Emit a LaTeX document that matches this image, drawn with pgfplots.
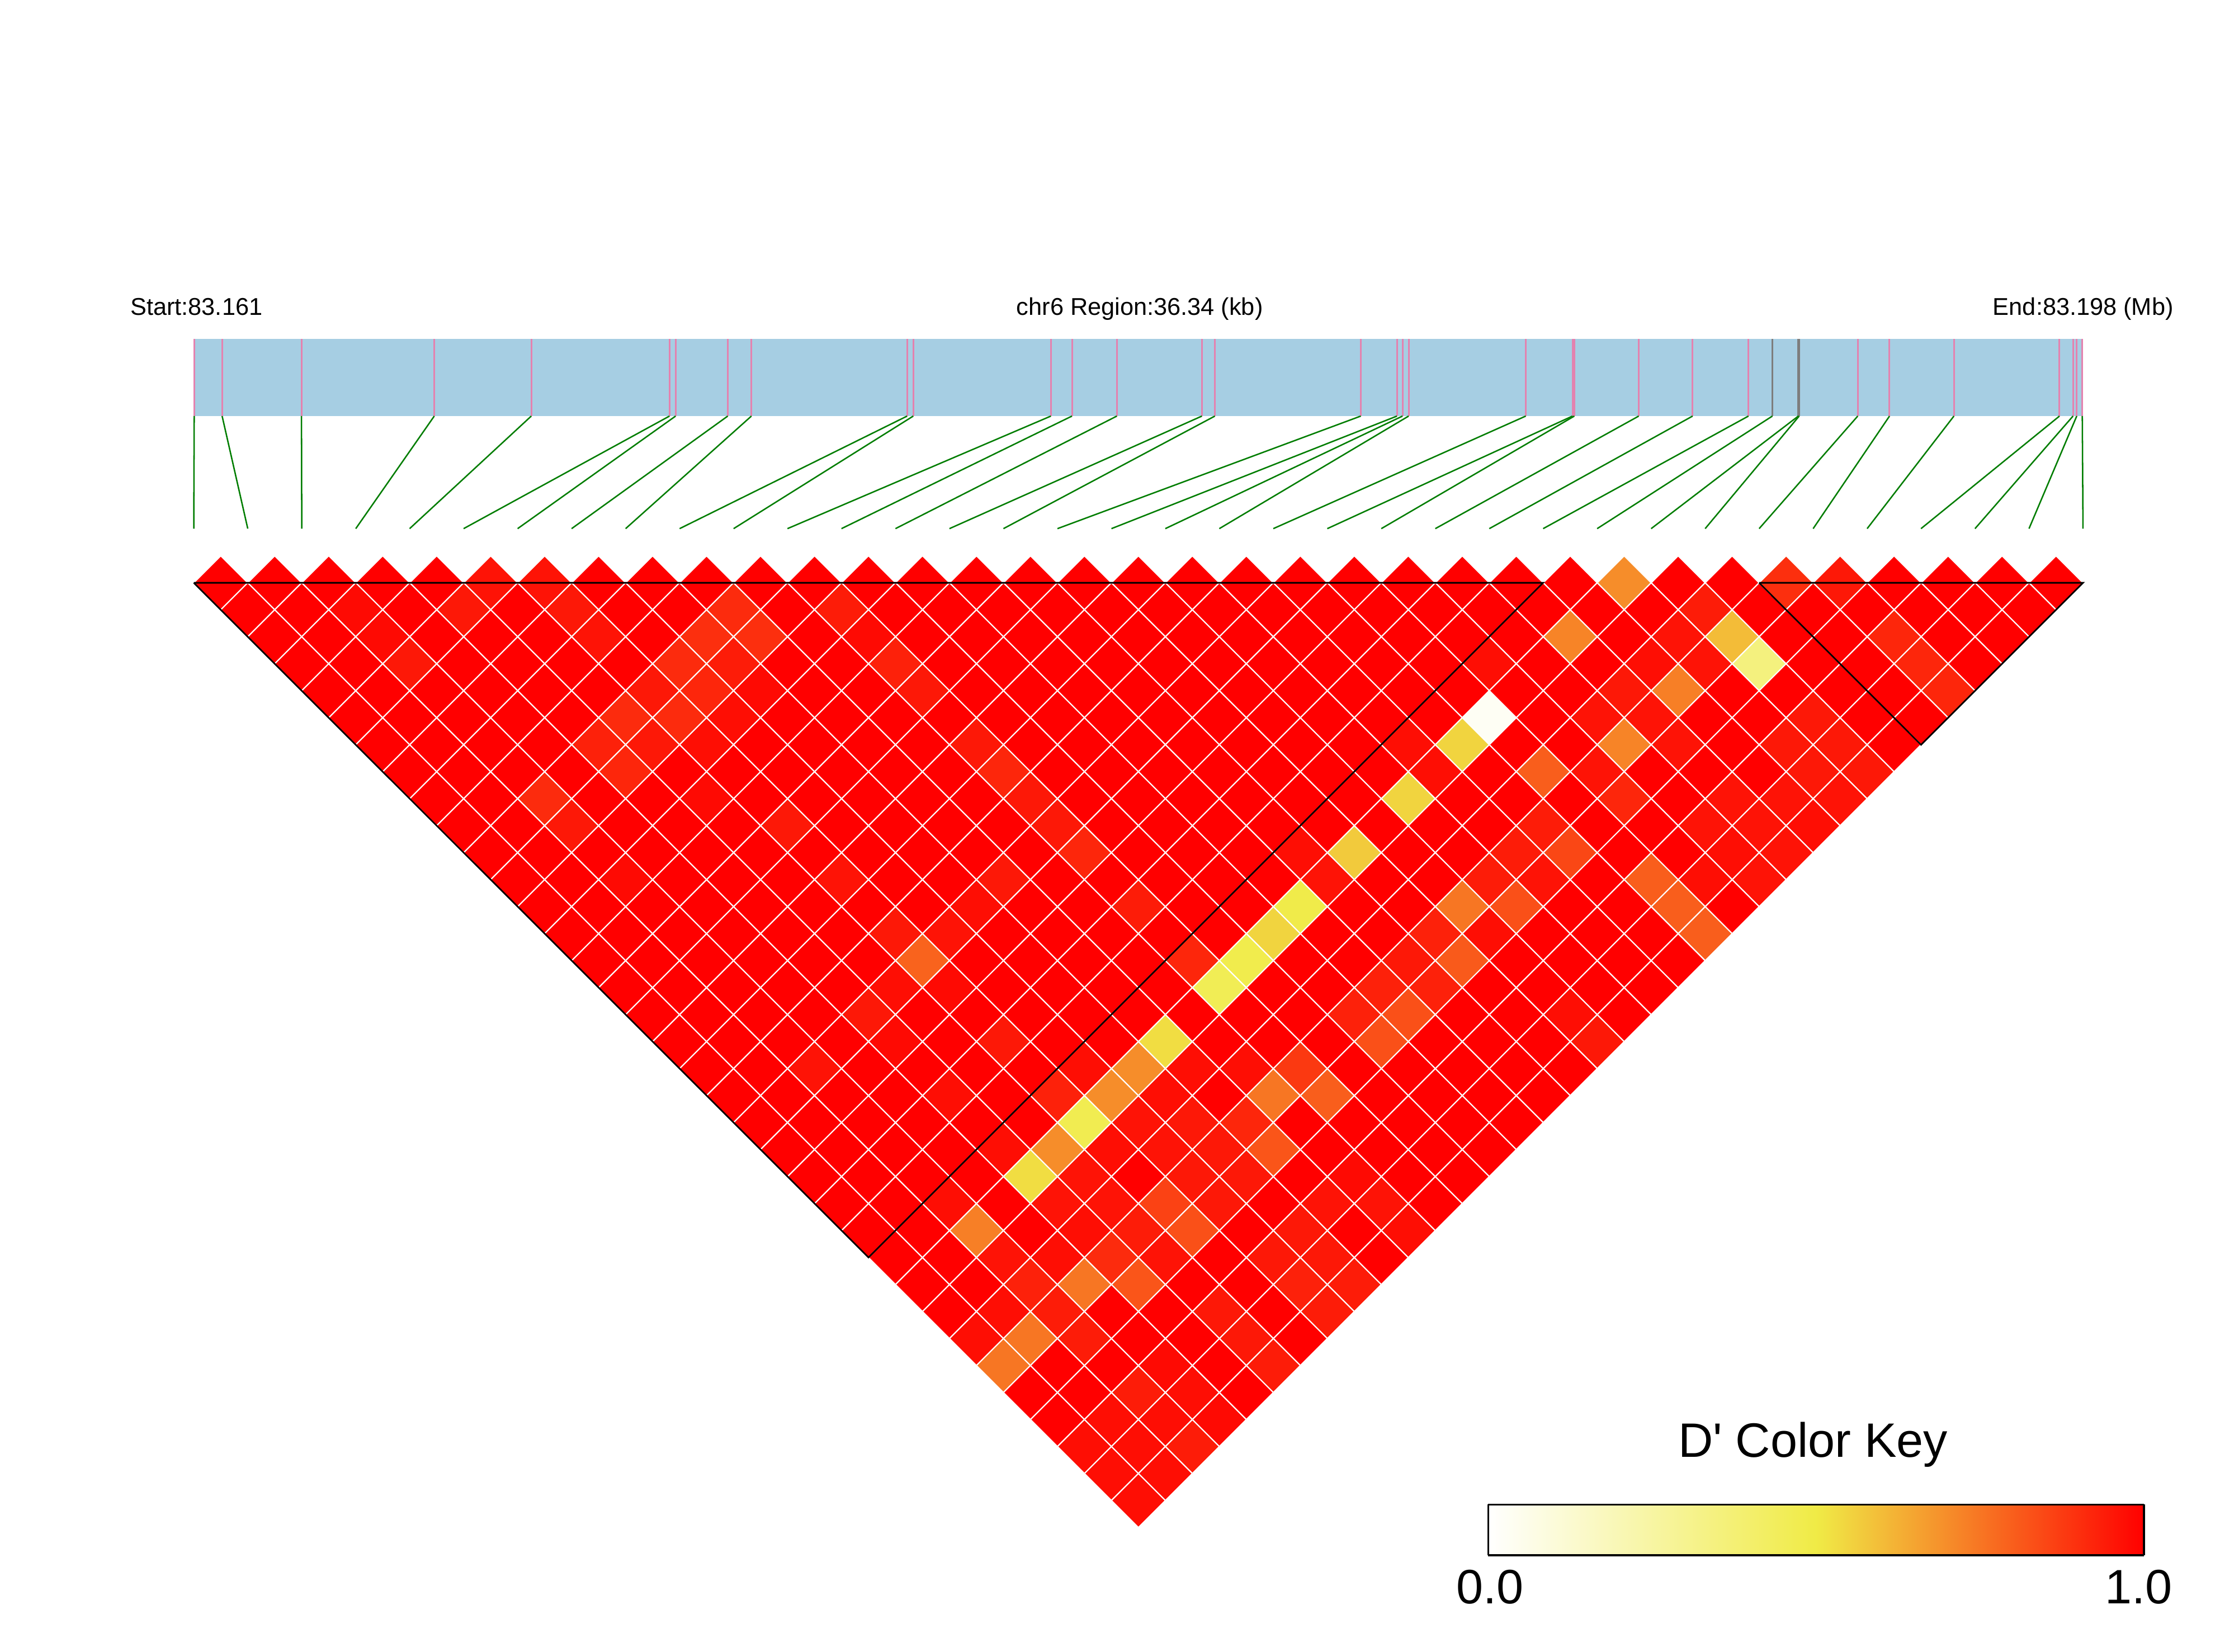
\documentclass[border=0pt]{standalone}
\usepackage{fontspec}
\setmainfont{Liberation Sans}
\usepackage{pgfplots}
\pgfplotsset{compat=1.18}
\definecolor{strip}{RGB}{166,206,227}
\definecolor{snppink}{RGB}{228,130,175}
\definecolor{snpgrey}{RGB}{125,125,125}
\definecolor{snpgreen}{RGB}{0,125,0}
\pgfplotsset{
  colormap={ld}{rgb255=(255,255,255) rgb255=(240,235,70) rgb255=(255,0,0)},
  ldcell/.style={only marks, scatter, point meta=explicit, mark=square*, mark size=4.86pt,
    mark options={rotate=45, line width=.3pt},
    scatter/use mapped color={draw=white, fill=mapped color}, forget plot},
}
% one row of the LD triangle: #1 = distance from the diagonal, #2 = D' values from the left
\newcommand\cellrow[2]{\addplot[ldcell] table[row sep=crcr, header=false, meta index=0,
   x expr={136+37.886*((#1+1)/2+\coordindex)}, y expr={409+18.943*#1}] {#2};}
% one SNP: #1 = place on the strip, #2 = place above the triangle, #3 = colour on the strip
\newcommand\snp[3]{\addplot[#3, line width=.43pt, forget plot] coordinates {(#1,238)(#1,292)};
  \addplot[snpgreen, line width=.36pt, forget plot] coordinates {(#1,292)(#2,371)};}
\begin{document}
\begin{tikzpicture}
\path[fill=white] (0,0) rectangle (20cm,14.7835cm);
\begin{axis}[at={(0,0)}, anchor=south west, width=20cm, height=14.7835cm, scale only axis,
  xmin=0, xmax=1568, ymin=0, ymax=1159, y dir=reverse, axis lines=none, clip=false, clip marker paths=true,
  colormap name=ld, point meta min=0, point meta max=1,
]
\addplot[fill=strip, draw=none, forget plot] coordinates {(136,238)(1462,238)(1462,292)(136,292)};
\snp{136.3}{136}{snppink}\snp{155.9}{173.9}{snppink}\snp{211.6}{211.8}{snppink}\snp{304.8}{249.7}{snppink}
\snp{372.9}{287.5}{snppink}\snp{469.9}{325.4}{snppink}\snp{474.2}{363.3}{snppink}\snp{510.8}{401.2}{snppink}
\snp{527.4}{439.1}{snppink}\snp{636.7}{477}{snppink}\snp{641}{514.9}{snppink}\snp{737.6}{552.7}{snppink}
\snp{752.4}{590.6}{snppink}\snp{783.9}{628.5}{snppink}\snp{843.6}{666.4}{snppink}\snp{852.7}{704.3}{snppink}
\snp{955.1}{742.2}{snppink}\snp{980.5}{780.1}{snppink}\snp{984.4}{817.9}{snppink}\snp{988.7}{855.8}{snppink}
\snp{1070.9}{893.7}{snppink}\snp{1103.7}{931.6}{snppink}\snp{1105}{969.5}{snppink}\snp{1150.2}{1007.4}{snppink}
\snp{1188}{1045.3}{snppink}\snp{1227.2}{1083.1}{snppink}\snp{1244}{1121}{snpgrey}\snp{1262.2}{1158.9}{snpgrey}
\snp{1262.8}{1196.8}{snpgrey}\snp{1303.9}{1234.7}{snppink}\snp{1326.2}{1272.6}{snppink}\snp{1371.4}{1310.5}{snppink}
\snp{1445.5}{1348.3}{snppink}\snp{1455}{1386.2}{snppink}\snp{1457.6}{1424.1}{snppink}\snp{1461.5}{1462}{snppink}
\cellrow{0}{1\\1\\1\\1\\1\\.96\\.96\\1\\1\\1\\1\\1\\1\\1\\1\\1\\1\\1\\1\\1\\1\\1\\1\\1\\1\\1\\.7\\1\\1\\.9\\.95\\1\\1\\1\\1\\}
\cellrow{1}{1\\1\\.98\\1\\.95\\1\\.95\\1\\1\\.91\\1\\.94\\1\\1\\1\\1\\1\\1\\1\\1\\1\\1\\1\\1\\1\\1\\1\\.94\\1\\1\\1\\1\\1\\1\\}
\cellrow{2}{1\\1\\.98\\1\\1\\1\\.96\\1\\.9\\.9\\1\\.98\\1\\1\\1\\1\\1\\1\\1\\1\\1\\1\\1\\1\\.72\\1\\.96\\.6\\1\\1\\.92\\1\\1\\}
\cellrow{3}{1\\1\\.95\\1\\1\\1\\1\\.91\\.94\\1\\1\\.93\\1\\1\\1\\1\\1\\1\\1\\1\\1\\1\\.97\\1\\1\\.97\\.96\\.35\\1\\1\\.92\\1\\}
\cellrow{4}{1\\1\\1\\1\\1\\1\\.95\\.92\\.98\\1\\1\\.95\\1\\1\\1\\1\\1\\1\\1\\1\\1\\1\\1\\1\\.95\\.73\\1\\1\\1\\1\\.92\\}
\cellrow{5}{1\\1\\1\\1\\1\\.91\\.91\\.97\\1\\1\\1\\1\\1\\1\\1\\1\\1\\1\\1\\1\\1\\.03\\1\\.96\\.96\\1\\1\\.95\\1\\1\\}
\cellrow{6}{1\\1\\1\\1\\.93\\.95\\.97\\1\\1\\1\\1\\.95\\1\\1\\1\\1\\1\\1\\1\\.97\\.55\\1\\1\\.72\\.96\\1\\.95\\.95\\1\\}
\cellrow{7}{1\\1\\1\\1\\.92\\1\\1\\1\\1\\1\\1\\.92\\1\\1\\1\\1\\1\\1\\1\\.97\\1\\.8\\.96\\1\\1\\1\\.95\\.95\\}
\cellrow{8}{1\\1\\.91\\1\\1\\.98\\1\\1\\1\\1\\1\\.95\\1\\1\\1\\1\\1\\1\\.55\\1\\1\\1\\.92\\1\\.96\\.96\\.96\\}
\cellrow{9}{1\\1\\.95\\1\\1\\1\\.95\\1\\1\\1\\1\\.95\\1\\1\\1\\1\\1\\1\\1\\1\\.94\\1\\1\\.96\\.96\\.97\\}
\cellrow{10}{1\\1\\1\\1\\1\\1\\1\\1\\1\\1\\1\\.92\\1\\1\\1\\.97\\.57\\1\\1\\.94\\.85\\1\\1\\.97\\.96\\}
\cellrow{11}{1\\1\\.98\\1\\1\\1\\.96\\1\\1\\.95\\1\\1\\1\\1\\1\\.96\\1\\1\\.94\\.96\\1\\.8\\.97\\.96\\}
\cellrow{12}{1\\1\\1\\1\\1\\1\\1\\1\\.97\\1\\1\\.94\\1\\1\\.49\\1\\1\\.75\\.83\\1\\1\\.8\\1\\}
\cellrow{13}{1\\1\\1\\1\\1\\1\\.95\\.96\\1\\1\\1\\1\\1\\.55\\1\\1\\.93\\.97\\1\\1\\1\\.8\\}
\cellrow{14}{1\\1\\1\\1\\1\\1\\.79\\1\\1\\1\\1\\.92\\.48\\1\\1\\.95\\.81\\1\\1\\1\\1\\}
\cellrow{15}{1\\1\\1\\1\\1\\.97\\.98\\1\\1\\1\\1\\.46\\1\\1\\.93\\.93\\1\\1\\1\\1\\}
\cellrow{16}{1\\1\\1\\1\\.95\\1\\1\\1\\1\\1\\1\\1\\1\\.93\\.83\\1\\1\\.97\\1\\}
\cellrow{17}{1\\1\\1\\1\\.98\\1\\.95\\1\\1\\.53\\1\\1\\1\\.83\\1\\1\\1\\.95\\}
\cellrow{18}{1\\1\\.96\\1\\1\\1\\1\\.97\\.7\\.97\\.97\\.88\\1\\1\\1\\1\\1\\}
\cellrow{19}{1\\1\\1\\1\\.97\\1\\.93\\.7\\.97\\1\\.75\\.8\\1\\1\\1\\1\\}
\cellrow{20}{1\\1\\1\\1\\1\\1\\.47\\.96\\.95\\.92\\1\\1\\1\\1\\1\\}
\cellrow{21}{1\\1\\1\\1\\.97\\.7\\.97\\.96\\.95\\.82\\1\\1\\1\\1\\}
\cellrow{22}{1\\1\\1\\1\\.53\\.96\\1\\.95\\.95\\1\\.98\\1\\1\\}
\cellrow{23}{1\\1\\.97\\1\\.96\\.96\\.86\\.95\\1\\.96\\.96\\1\\}
\cellrow{24}{1\\1\\.73\\1\\.97\\.94\\.83\\1\\.95\\1\\.97\\}
\cellrow{25}{1\\1\\.96\\.97\\.91\\.96\\1\\.95\\.95\\1\\}
\cellrow{26}{1\\1\\.93\\.75\\.82\\1\\1\\.93\\.94\\}
\cellrow{27}{1\\.97\\.94\\1\\1\\.95\\1\\.94\\}
\cellrow{28}{.97\\.75\\.94\\1\\1\\.95\\1\\}
\cellrow{29}{.75\\1\\1\\.98\\1\\.94\\}
\cellrow{30}{1\\1\\.94\\.97\\1\\}
\cellrow{31}{1\\.97\\.97\\.98\\}
\cellrow{32}{.97\\.97\\.94\\}
\cellrow{33}{.97\\.97\\}
\cellrow{34}{.97\\}
\addplot[black, line width=.4pt, forget plot] coordinates {(136,409)(1083.1,409)(609.6,882.5)(136,409)};
\addplot[black, line width=.4pt, forget plot] coordinates {(1234.7,409)(1462,409)(1348.3,522.7)(1234.7,409)};
\node[anchor=base west, inner sep=0pt, font=\fontsize{6.17}{7}\selectfont] at (axis cs:91,221) {Start:83.161};
\node[anchor=base, inner sep=0pt, font=\fontsize{6.17}{7}\selectfont] at (axis cs:800,221) {chr6 Region:36.34 (kb)};
\node[anchor=base east, inner sep=0pt, font=\fontsize{6.17}{7}\selectfont] at (axis cs:1526,221) {End:83.198 (Mb)};
\node[anchor=base, inner sep=0pt, font=\fontsize{12.3}{14}\selectfont] at (axis cs:1272.5,1022.5) {D\textquotesingle{} Color Key};
\end{axis}
\begin{axis}[at={(379.1pt,24.5pt)}, anchor=south west, width=167pt, height=12.9pt, scale only axis,
  xmin=0, xmax=1, ymin=0, ymax=1, view={0}{90}, colormap name=ld, point meta min=0, point meta max=1,
  xtick={0.003,0.992}, xticklabels={0.0,1.0}, ytick=\empty, xtick style={draw=none}, axis line style={line width=.5pt},
  xticklabel style={font=\fontsize{12.3}{14}\selectfont, yshift=-.2pt}, axis on top]
\addplot3[surf, shader=interp, mesh/cols=3, point meta=x] coordinates {
 (0,0,0) (0.5,0,0) (1,0,0)

 (0,1,0) (0.5,1,0) (1,1,0)};
\end{axis}
\end{tikzpicture}
\end{document}
